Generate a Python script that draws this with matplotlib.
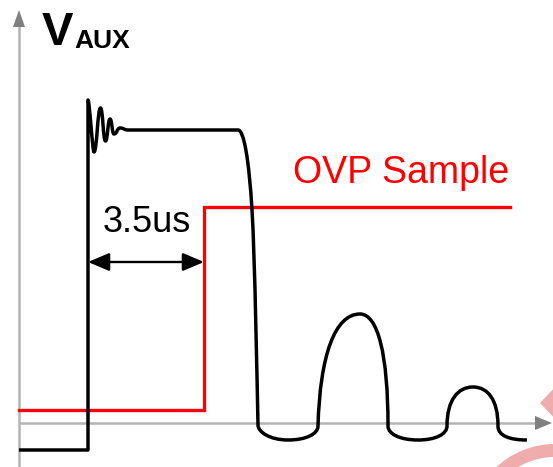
import matplotlib
matplotlib.use("Agg")
import matplotlib.pyplot as plt
from matplotlib.path import Path
from matplotlib.patches import PathPatch, Polygon, Wedge, FancyArrowPatch

plt.rcParams['font.family'] = ['Liberation Sans', 'DejaVu Sans']

# ---- data (time t, voltage v) in schematic units ----
M, L, C = Path.MOVETO, Path.LINETO, Path.CURVE4
vaux_codes = [M, L, L,
              C, C, C,  C, C, C,  C, C, C,  C, C, C,  C, C, C,  C, C, C,  C, C, C,
              L,
              C, C, C,  C, C, C,
              C, C, C,  C, C, C,
              C, C, C,  C, C, C,
              C, C, C,  C, C, C,
              C, C, C,  C, C, C,
              C, C, C]
vaux_t = [0, 69, 69,
          70.5, 73.5, 75,   78, 78.5, 81.5,   84, 84, 86.5,   88.7, 88.8, 91,
          93, 93, 95,   98, 98, 101,   105, 105, 109,
          219,
          225, 230, 233,   236, 238, 239,
          239, 251, 269,   287, 299, 299,
          301, 316, 341,   359, 369, 369,
          369, 381, 399,   417, 428, 428,
          428, 439, 454,   469, 479, 479,
          479, 491, 508]
vaux_v = [-27, -27, 323,
          323, 271, 271,   271, 315, 315,   315, 282, 282,   282, 304, 304,
          304, 289, 289,   289, 295, 295,   295, 293, 293,
          293,
          293, 263, 213,   163, 43, -2,
          -9, -17, -17,   -17, -11, -3,
          68, 109, 109,   109, 68, -3,
          -11, -17, -17,   -17, -11, -3,
          23, 36, 36,   36, 23, -3,
          -13, -17, -17]

ovp_t = [0, 185, 185, 491]
ovp_v = [13, 13, 216, 216]

delay_start, delay_end, delay_level = 69, 185, 161
delay_label = "3.5us"
ovp_label = "OVP Sample"

fig = plt.figure(figsize=(5.53, 4.67), dpi=100)
ax = fig.add_axes([0, 0, 1, 1])
ax.set_xlim(-19, 534)
ax.set_ylim(-44, 423)
ax.axis('off')

axis_light = '#b4b4b4'
axis_dark = '#808080'
# axes
ax.plot([0, 0], [-44, 397], color=axis_light, lw=1.8, solid_capstyle='butt', zorder=1)
ax.add_patch(Polygon([[0, 413], [-6, 396], [6, 396]], closed=True, color=axis_dark, lw=0, zorder=1))
ax.plot([0, 517], [0, 0], color=axis_light, lw=1.8, solid_capstyle='butt', zorder=1)
ax.add_patch(Polygon([[533, 0], [516, 7], [516, -7]], closed=True, color=axis_dark, lw=0, zorder=1))

# watermark fragment
wm = '#efacac'
ax.add_patch(Wedge((536, -107), 86, 0, 360, width=13, color=wm, lw=0, zorder=0))
ax.add_patch(Polygon([[540, 40], [521, 20], [540, 0]], closed=True, color=wm, lw=0, zorder=0))

# OVP sample signal
ax.plot(ovp_t, ovp_v, color='#ff0000', lw=2.4, solid_joinstyle='miter', zorder=2)

# V_AUX waveform
path = Path(list(zip(vaux_t, vaux_v)), vaux_codes)
ax.add_patch(PathPatch(path, facecolor='none', edgecolor='black', lw=2.5,
                       joinstyle='round', capstyle='butt', zorder=3))

# delay arrow
arr = FancyArrowPatch((delay_start, delay_level), (delay_end, delay_level),
                      arrowstyle='<|-|>,head_length=1.3,head_width=0.55',
                      mutation_scale=10, color='black', lw=1.7,
                      shrinkA=0, shrinkB=0, zorder=4)
ax.add_patch(arr)

ax.text(127.5, 191, delay_label, fontsize=26, ha='center', va='baseline', color='black')
ax.text(382.5, 240, ovp_label, fontsize=27, ha='center', va='baseline', color='#ff0000')
ax.text(23, 378, "V", fontsize=34, fontweight='bold', ha='left', va='baseline')
ax.text(55, 375, "AUX", fontsize=19, fontweight='bold', ha='left', va='baseline')

fig.savefig('out.png', dpi=100)
